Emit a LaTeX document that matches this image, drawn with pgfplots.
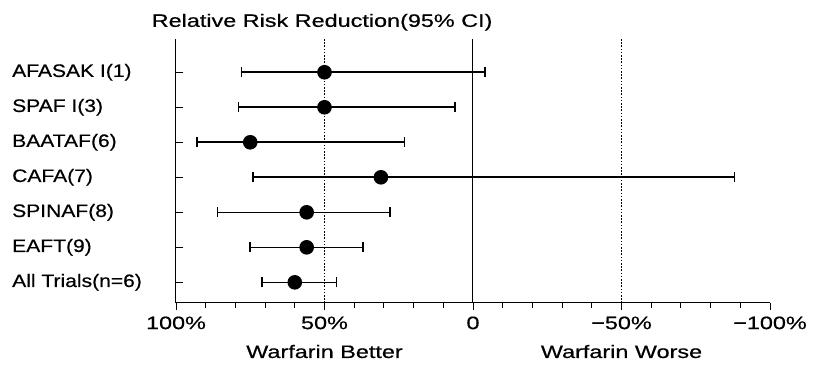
\documentclass[border=0pt]{standalone}
\usepackage{pgfplots}
\pgfplotsset{compat=1.18}
\usepackage{pgfplotstable}
\usepackage{fontspec}
\setmainfont{Liberation Sans}[FakeStretch=1.3, FakeBold=0.5]
\newfontfamily\ylab{Liberation Sans}[FakeStretch=1.17, FakeBold=0.5]
\pgfplotstableread{
row est lo hi
1 50 -4 78
2 50 6 79
3 75 23 93
4 31 -88 74
5 56 28 86
6 56 37 75
7 60 46 71
}\trials
\begin{document}
\begin{tikzpicture}
\begin{axis}[
  scale only axis,
  width=594pt, height=264pt,
  x dir=reverse, y dir=reverse,
  xmin=-100, xmax=100,
  ymin=0.05, ymax=7.59,
  axis x line=bottom, axis y line=left,
  axis line style={-, line width=1pt, black},
  xtick={-100,-50,0,50,100},
  xticklabels={−100\%,−50\%,0,50\%,100\%},
  minor xtick={-90,-80,-70,-60,-40,-30,-20,-10,10,20,30,40,60,70,80,90},
  xtick align=outside,
  ytick align=inside,
  major tick length=7pt, minor tick length=5pt,
  tick style={black, line width=0.9pt},
  ytick={1,...,7},
  yticklabels={AFASAK I(1),SPAF I(3),BAATAF(6),CAFA(7),SPINAF(8),EAFT(9),All Trials(n=6)},
  yticklabel style={anchor=west, inner sep=0pt, xshift=-164pt, font=\ylab\fontsize{18}{21}\selectfont},
  xticklabel style={yshift=-3pt, font=\fontsize{18}{21}\selectfont},
  /pgf/number format/assume math mode=true,
  clip=false,
]
\draw[line width=1pt] (axis cs:0,0.05) -- (axis cs:0,7.59);
\draw[line width=1.3pt, dash pattern=on 1.6pt off 1.6pt] (axis cs:50,0.05) -- (axis cs:50,7.59);
\draw[line width=1.3pt, dash pattern=on 1.6pt off 1.6pt] (axis cs:-50,0.05) -- (axis cs:-50,7.59);
\addplot[black, only marks, mark=*, mark size=6.5pt, line width=1.6pt,
  error bars/.cd, x dir=both, x explicit,
  error bar style={line width=1.6pt, black},
  error mark options={rotate=90, mark size=5pt, line width=1.6pt}]
  table[x=est, y=row, x error plus expr=\thisrow{hi}-\thisrow{est}, x error minus expr=\thisrow{est}-\thisrow{lo}] {\trials};
\node[anchor=base, font=\fontsize{18}{21}\selectfont] at (axis description cs:0.246,1.046) {Relative Risk Reduction(95\% CI)};
\node[anchor=base, font=\fontsize{18}{21}\selectfont] at (axis cs:50,9.16) {Warfarin Better};
\node[anchor=base, font=\fontsize{18}{21}\selectfont] at (axis cs:-50,9.16) {Warfarin Worse};
\coordinate (bl) at ([xshift=-176pt,yshift=-62pt]axis description cs:0,0);
\coordinate (tr) at ([xshift=44pt,yshift=39pt]axis description cs:1,1);
\end{axis}
\pgfresetboundingbox
\path[use as bounding box] (bl) rectangle (tr);
\end{tikzpicture}
\end{document}
